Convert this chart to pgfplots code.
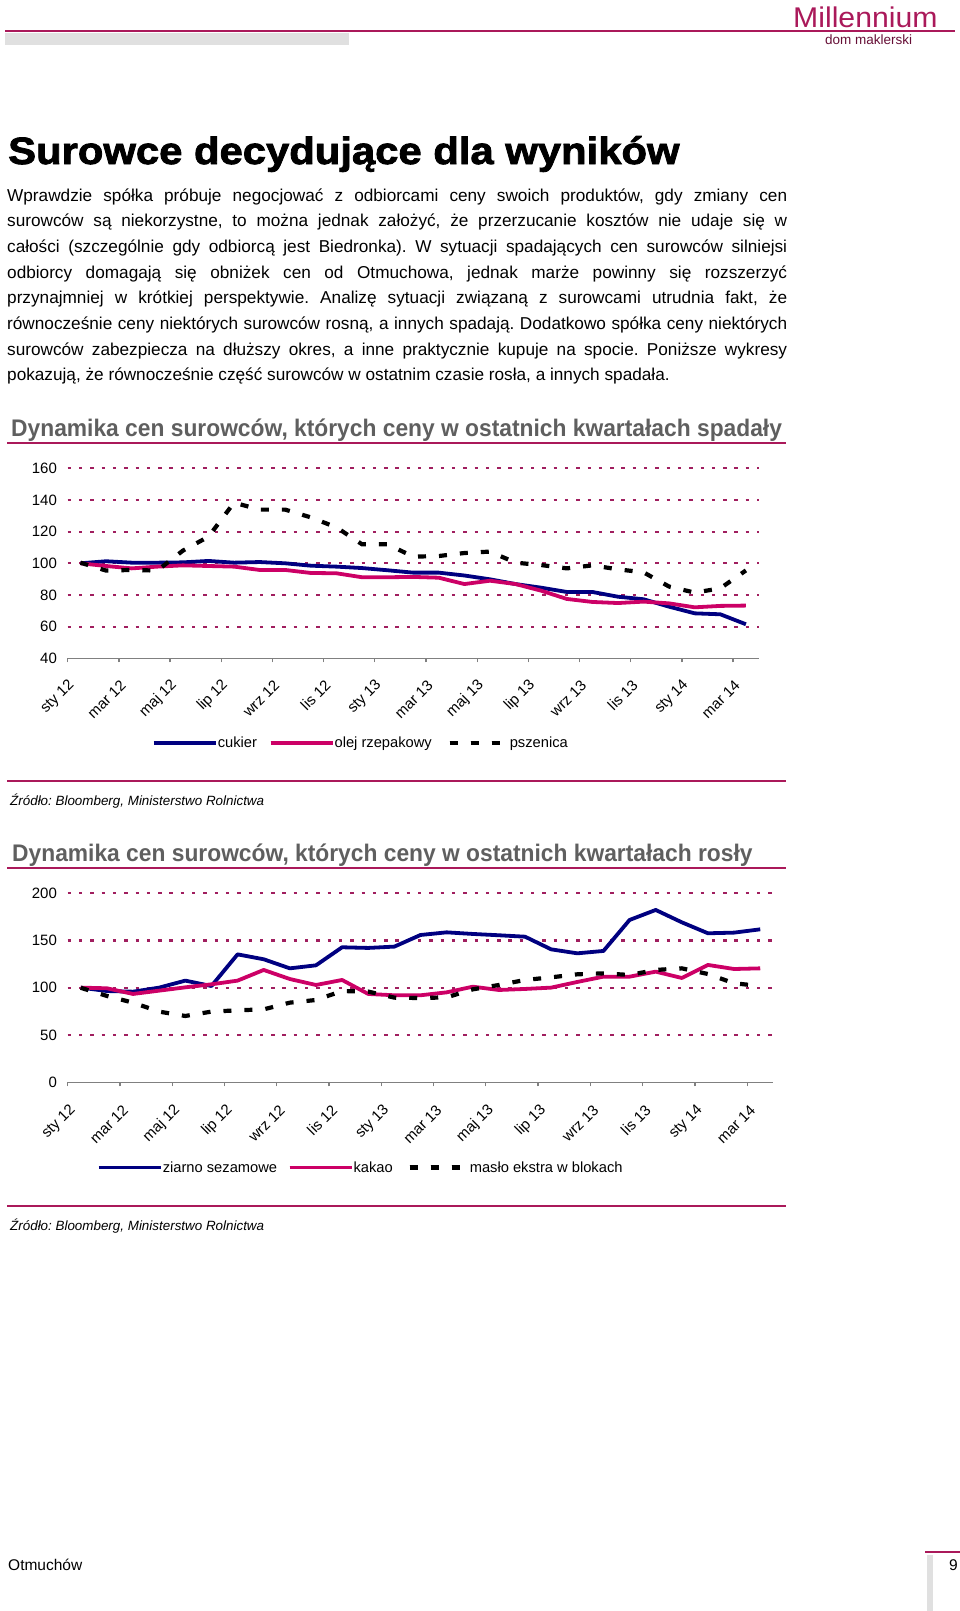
\documentclass[border=0pt]{standalone}
\usepackage{fontspec}
\setmainfont{Liberation Sans}
\usepackage{pgfplots}
\pgfplotsset{compat=1.18}
\usepackage{graphicx}
\definecolor{navy}{RGB}{0,0,128}
\definecolor{pinkc}{RGB}{204,0,102}
\definecolor{gridc}{RGB}{160,30,95}
\definecolor{crim}{RGB}{170,25,90}
\definecolor{titlegrey}{RGB}{95,95,95}
\definecolor{axgrey}{RGB}{128,128,128}
\definecolor{bargrey}{RGB}{224,224,224}
\newfontfamily\titlefont{Liberation Sans}[FakeStretch=1.1,FakeBold=2.2]
\newfontfamily\sectfont{Liberation Sans}[FakeStretch=0.95]
\newfontfamily\logofont{Liberation Sans}[FakeStretch=1.06]
\frenchspacing
\newcommand{\pline}[2]{\node[anchor=base west,inner sep=0pt,font=\fontsize{17.2}{17.2}\selectfont] at (7pt,-#1pt) {\makebox[780pt][s]{#2}};}
\pgfplotsset{
  mychart/.style={
    scale only axis,
    /pgf/number format/assume math mode=true,
    xmin=-0.5, xmax=26.5,
    axis x line*=bottom, axis y line*=left,
    y axis line style={draw=none},
    x axis line style={axgrey, line width=1.3pt},
    ymajorgrids,
    major grid style={gridc, line width=2.2pt, dash pattern=on 3.4pt off 7.9pt},
    ytick style={draw=none},
    xtick={0,2,...,26},
    xticklabels={sty 12,mar 12,maj 12,lip 12,wrz 12,lis 12,sty 13,mar 13,maj 13,lip 13,wrz 13,lis 13,sty 14,mar 14},
    major tick length=0pt,
    minor xtick={-0.5,1.5,...,25.5},
    minor tick length=4pt,
    minor x tick style={axgrey, line width=1.3pt},
    tick align=outside,
    extra y tick style={grid=none},
    yticklabel style={font=\fontsize{15}{15}\selectfont, inner sep=0pt, xshift=-10.6pt},
    legend columns=3,
    legend cell align=left,
    legend image code/.code={\draw[##1] (0pt,0pt) -- (56pt,0pt); \path (0pt,0pt) -- (62pt,0pt);},
    legend style={draw=none, fill=none, inner sep=0pt, outer sep=0pt, anchor=west,
      nodes={inner sep=0pt, font=\fontsize{14.7}{14.7}\selectfont}},
  },
  s1/.style={navy, line width=3.8pt, line join=round},
  s2/.style={pinkc, line width=3.8pt, line join=round},
  s3/.style={black, line width=4.2pt, dash pattern=on 8pt off 13pt,
    legend image code/.code={\draw[##1] (0pt,0pt) -- (56pt,0pt); \path (0pt,0pt) -- (58pt,0pt);}},
}
\begin{document}
\begin{tikzpicture}
\path[use as bounding box] (0,0) rectangle (960pt,-1611pt);
% header
\fill[crim] (5pt,-30.5pt) rectangle (955pt,-32.5pt);
\fill[bargrey] (5pt,-33.5pt) rectangle (349pt,-45pt);
\node[anchor=base west,inner sep=0pt,text=crim,font=\logofont\fontsize{28.5}{28.5}\selectfont] at (793pt,-28pt) {Millennium};
\node[anchor=base west,inner sep=0pt,text=crim!60!black,font=\fontsize{13.5}{13.5}\selectfont] at (825pt,-44.5pt) {dom maklerski};
% title
\node[anchor=base west,inner sep=0pt,font=\titlefont\bfseries\fontsize{38}{38}\selectfont] at (8pt,-164pt) {Surowce decydujące dla wyników};
% paragraph
\pline{201}{Wprawdzie spółka próbuje negocjować z odbiorcami ceny swoich produktów, gdy zmiany cen}
\pline{226.7}{surowców są niekorzystne, to można jednak założyć, że przerzucanie kosztów nie udaje się w}
\pline{252.4}{całości (szczególnie gdy odbiorcą jest Biedronka). W sytuacji spadających cen surowców silniejsi}
\pline{278.1}{odbiorcy domagają się obniżek cen od Otmuchowa, jednak marże powinny się rozszerzyć}
\pline{303.8}{przynajmniej w krótkiej perspektywie. Analizę sytuacji związaną z surowcami utrudnia fakt, że}
\pline{329.5}{równocześnie ceny niektórych surowców rosną, a innych spadają. Dodatkowo spółka ceny niektórych}
\pline{355.2}{surowców zabezpiecza na dłuższy okres, a inne praktycznie kupuje na spocie. Poniższe wykresy}
\node[anchor=base west,inner sep=0pt,font=\fontsize{17.2}{17.2}\selectfont] at (7pt,-380.9pt) {pokazują, że równocześnie część surowców w ostatnim czasie rosła, a innych spadała.};
% section 1
\node[anchor=base west,inner sep=0pt,text=titlegrey,font=\sectfont\bfseries\fontsize{24}{24}\selectfont] at (11pt,-436pt) {Dynamika cen surowców, których ceny w ostatnich kwartałach spadały};
\fill[crim] (7pt,-441.5pt) rectangle (786pt,-443.5pt);
\begin{axis}[mychart,
  at={(67.7pt,-658.3pt)}, anchor=south west,
  width=691pt, height=190pt,
  ymin=40, ymax=160,
  ytick={60,80,...,160}, extra y ticks={40},
  xticklabel style={font=\fontsize{15}{15}\selectfont, inner sep=0pt, xshift=-8.5pt, yshift=-24.3pt, rotate=45, anchor=east},
  legend style={at={(0.122,-0.4458)}},
]
\addplot[s1] coordinates {(0,100)(1,101.3)(2,100.4)(3,100.4)(4,100.6)(5,101.5)(6,100.4)(7,100.8)(8,100)(9,98.5)(10,97.9)(11,97)(12,95.6)(13,94.1)(14,94.1)(15,92.3)(16,89.9)(17,86.9)(18,84.6)(19,81.9)(20,81.9)(21,78.9)(22,77.3)(23,72.6)(24,68.4)(25,67.8)(26,61.5)};
\addlegendentry{\makebox[51pt][l]{cukier}}
\addplot[s2] coordinates {(0,100)(1,98.3)(2,96.8)(3,97.9)(4,98.7)(5,98.3)(6,97.9)(7,95.8)(8,95.8)(9,93.9)(10,93.7)(11,91.2)(12,91.2)(13,91.4)(14,90.9)(15,86.9)(16,89)(17,86.9)(18,82.7)(19,77.5)(20,75.6)(21,74.9)(22,75.8)(23,74.7)(24,72.2)(25,73.1)(26,73.3)};
\addlegendentry{\makebox[113pt][l]{olej rzepakowy}}
\addplot[s3] coordinates {(0,100.4)(1,95.4)(2,95.8)(3,95.4)(4,108)(5,116.8)(6,138.3)(7,133.9)(8,133.9)(9,129)(10,122.7)(11,112)(12,112)(13,104.2)(14,104.6)(15,106.5)(16,107.4)(17,100.4)(18,98.9)(19,96.8)(20,98.7)(21,96.2)(22,94.3)(23,85.3)(24,81.5)(25,84.2)(26,95.5)};
\addlegendentry{pszenica}
\end{axis}
\fill[crim] (7pt,-780pt) rectangle (786pt,-782pt);
\node[anchor=base west,inner sep=0pt,font=\itshape\fontsize{13.4}{13.4}\selectfont] at (10pt,-805pt) {Źródło: Bloomberg, Ministerstwo Rolnictwa};
% section 2
\node[anchor=base west,inner sep=0pt,text=titlegrey,font=\sectfont\bfseries\fontsize{24}{24}\selectfont] at (12pt,-861pt) {Dynamika cen surowców, których ceny w ostatnich kwartałach rosły};
\fill[crim] (7pt,-866.5pt) rectangle (786pt,-868.5pt);
\begin{axis}[mychart,
  at={(67.7pt,-1082.3pt)}, anchor=south west,
  width=705.6pt, height=189pt,
  ymin=0, ymax=200,
  ytick={50,100,150,200}, extra y ticks={0},
  xticklabel style={font=\fontsize{15}{15}\selectfont, inner sep=0pt, xshift=-7.5pt, yshift=-25.3pt, rotate=45, anchor=east},
  legend style={at={(0.0415,-0.4508)}},
]
\addplot[s1] coordinates {(0,100.2)(1,96.6)(2,95.9)(3,100.2)(4,107.6)(5,101.9)(6,135.4)(7,130.2)(8,120.6)(9,123.8)(10,142.9)(11,142.2)(12,143.6)(13,155.9)(14,158.7)(15,157)(16,155.6)(17,154.1)(18,140.7)(19,136.5)(20,139)(21,171.8)(22,182.4)(23,169.3)(24,157.7)(25,158.4)(26,161.9)};
\addlegendentry{\makebox[125pt][l]{ziarno sezamowe}}
\addplot[s2] coordinates {(0,100.2)(1,99.5)(2,93.5)(3,97)(4,100.5)(5,103.7)(6,107.6)(7,118.9)(8,109.3)(9,103)(10,108.3)(11,93.5)(12,92.1)(13,92.1)(14,95.2)(15,101.2)(16,97.7)(17,98.8)(18,100.2)(19,106.2)(20,111.8)(21,111.8)(22,117.1)(23,110.4)(24,124.2)(25,119.9)(26,120.6)};
\addlegendentry{\makebox[54pt][l]{kakao}}
\addplot[s3] coordinates {(0,100)(1,91.4)(2,84.3)(3,74.8)(4,70.2)(5,74.8)(6,76.2)(7,77.2)(8,84.3)(9,87.1)(10,96.6)(11,96)(12,89.6)(13,89.2)(14,89.9)(15,98.4)(16,103)(17,108.3)(18,111.1)(19,114.3)(20,115.3)(21,113.6)(22,118.9)(23,120.6)(24,114.6)(25,104.8)(26,101.9)};
\addlegendentry{masło ekstra w blokach}
\end{axis}
\fill[crim] (7pt,-1204.6pt) rectangle (786pt,-1206.6pt);
\node[anchor=base west,inner sep=0pt,font=\itshape\fontsize{13.4}{13.4}\selectfont] at (10pt,-1230pt) {Źródło: Bloomberg, Ministerstwo Rolnictwa};
% footer
\node[anchor=base west,inner sep=0pt,font=\fontsize{15.5}{15.5}\selectfont] at (8pt,-1570pt) {Otmuchów};
\node[anchor=base west,inner sep=0pt,font=\fontsize{15.5}{15.5}\selectfont] at (949pt,-1570pt) {9};
\fill[crim] (925pt,-1551pt) rectangle (960pt,-1553pt);
\fill[bargrey] (927pt,-1555pt) rectangle (933pt,-1611pt);
\end{tikzpicture}
\end{document}
